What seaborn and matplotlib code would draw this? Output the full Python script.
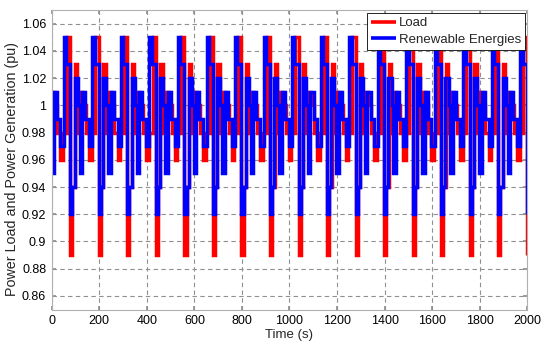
import numpy as np
import pandas as pd
import matplotlib
matplotlib.use("Agg")
import matplotlib.pyplot as plt
import seaborn as sns

# One 120-s cycle of each step signal (start time of step in s, value in pu)
period = 120
t_end = 2000
load_tau = [0, 12, 24, 37, 48, 64, 78, 87, 97, 107, 113]
load_val = [1.01, 1.00, 0.98, 0.96, 0.98, 1.05, 0.89, 0.94, 1.03, 0.98, 1.00]
ren_tau = [0, 8, 21, 37, 51, 61, 78, 87, 96, 109, 117]
ren_val = [0.95, 1.01, 0.99, 0.97, 1.05, 1.03, 0.92, 0.94, 1.02, 1.00, 0.95]

xticks = [0, 200, 400, 600, 800, 1000, 1200, 1400, 1600, 1800, 2000]
yticks = [0.86, 0.88, 0.90, 0.92, 0.94, 0.96, 0.98, 1.00, 1.02, 1.04, 1.06]
ytick_labels = ["0.86", "0.88", "0.9", "0.92", "0.94", "0.96", "0.98", "1", "1.02", "1.04", "1.06"]


def build(tau, val):
    ts, vs = [], []
    k = 0
    while k * period < t_end:
        for a, v in zip(tau, val):
            t = a + k * period
            if t < t_end:
                ts.append(t)
                vs.append(v)
        k += 1
    ts.append(t_end)
    vs.append(vs[-1])
    return ts, vs


lt, lv = build(load_tau, load_val)
rt, rv = build(ren_tau, ren_val)
df_load = pd.DataFrame({"t": lt, "v": lv})
df_ren = pd.DataFrame({"t": rt, "v": rv})

sns.set_theme(style="white")
plt.rcParams["font.family"] = ["Liberation Sans", "DejaVu Sans"]

fig = plt.figure(figsize=(5.5, 3.51), dpi=100)
ax = fig.add_axes([0.094, 0.118, 0.8647, 0.8535])

common = dict(ax=ax, linewidth=2.5, drawstyle="steps-post", estimator=None,
              sort=False, solid_joinstyle="miter", solid_capstyle="butt")
sns.lineplot(data=df_load, x="t", y="v", color="#ff0000", label="Load", **common)
sns.lineplot(data=df_ren, x="t", y="v", color="#0000ff", label="Renewable Energies", **common)

ax.set_xlim(0, 2000)
ax.set_ylim(0.85, 1.07)
ax.set_xticks(xticks)
ax.set_yticks(yticks)
ax.set_yticklabels(ytick_labels)
ax.tick_params(direction="in", length=3, labelsize=9, colors="#000000",
               top=True, right=True, bottom=True, left=True, pad=4,
               color="#909090")
ax.grid(True, linestyle=(0, (4, 3)), color="#909090", linewidth=0.8)
for s in ax.spines.values():
    s.set_color("#b0b0b0")
    s.set_linewidth(0.8)
ax.set_xlabel("Time (s)", fontsize=9.5, labelpad=1)
ax.set_ylabel("Power Load and Power Generation (pu)", fontsize=10.3, labelpad=2)
ax.yaxis.set_label_coords(-0.068, 0.47)

leg = ax.legend(loc="upper right", bbox_to_anchor=(0.996, 0.99), fontsize=9.5,
                frameon=True, fancybox=False, borderpad=0.3, handlelength=1.9,
                handletextpad=0.25, labelspacing=0.35, borderaxespad=0)
leg.get_frame().set_edgecolor("#000000")
leg.get_frame().set_linewidth(0.6)
leg.get_frame().set_alpha(1)
for h in leg.get_lines():
    h.set_linewidth(2.6)

fig.savefig("out.png", dpi=100)
